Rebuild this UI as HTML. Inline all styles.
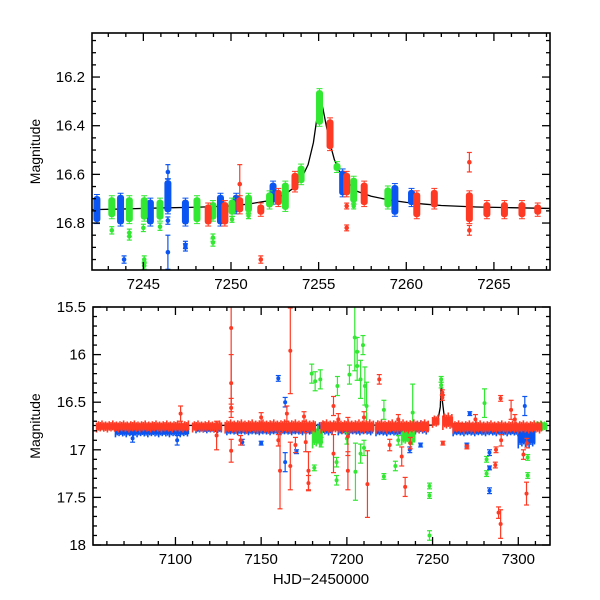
<!DOCTYPE html>
<html><head><meta charset="utf-8"><style>
html,body{margin:0;padding:0;background:#fff;}
svg{display:block;font-family:"Liberation Sans",sans-serif;}
</style></head><body>
<svg id="chart" width="600" height="600" viewBox="0 0 600 600"></svg>
<script>
// ---------- TOP PANEL DATA ----------
const topBlueClusters=[[7242.35,16.695,16.79],[7243.7,16.69,16.80],[7245.4,16.71,16.80],[7246.4,16.63,16.75],[7247.4,16.71,16.80],[7249.4,16.69,16.80],[7250.3,16.69,16.75],[7252.4,16.64,16.71],[7256.37,16.59,16.68],[7259.35,16.65,16.76],[7260.3,16.67,16.72]];
const topGreenClusters=[[7243.2,16.70,16.77],[7244.2,16.70,16.79],[7245.05,16.70,16.78],[7245.95,16.71,16.78],[7248.06,16.70,16.79],[7248.97,16.72,16.78],[7250.06,16.71,16.76],[7251.0,16.69,16.75],[7252.2,16.68,16.73],[7253.1,16.64,16.74],[7254.0,16.57,16.63],[7255.05,16.26,16.39],[7256.05,16.56,16.58],[7257.0,16.62,16.71],[7258.95,16.66,16.73]];
const topRedClusters=[[7248.7,16.73,16.80],[7249.65,16.72,16.80],[7250.5,16.70,16.75],[7251.7,16.73,16.76],[7252.7,16.67,16.72],[7253.65,16.60,16.66],[7255.65,16.38,16.49],[7256.6,16.60,16.68],[7257.6,16.64,16.72],[7260.6,16.68,16.77],[7261.6,16.67,16.73],[7263.6,16.68,16.79],[7264.6,16.72,16.77],[7265.6,16.72,16.77],[7266.6,16.72,16.77],[7267.5,16.73,16.76]];
const topBluePoints=[[7243.9,16.95,0.015],[7246.4,16.59,0.03],[7246.4,16.79,0.015],[7246.4,16.92,0.07],[7247.4,16.89,0.015],[7247.4,16.90,0.015]];
const topGreenPoints=[[7243.2,16.83,0.015],[7244.2,16.84,0.015],[7244.2,16.855,0.015],[7245.0,16.82,0.015],[7245.05,16.95,0.015],[7245.05,16.975,0.015],[7245.95,16.815,0.015],[7248.97,16.86,0.015],[7248.97,16.88,0.015],[7250.06,16.785,0.012],[7251.0,16.77,0.012],[7257.0,16.73,0.012]];
const topRedPoints=[[7250.5,16.64,0.08],[7251.7,16.95,0.015],[7256.6,16.73,0.012],[7256.6,16.82,0.012],[7263.6,16.55,0.04],[7263.6,16.83,0.02]];
const modelTime=[7242.0,7244,7246,7248,7250,7251,7252,7253,7253.5,7254,7254.4,7254.7,7254.9,7255.1,7255.3,7255.6,7255.9,7256.2,7256.6,7257.2,7258,7259,7260,7261,7262,7264,7266,7268.2];
const modelMag=[16.745,16.742,16.738,16.735,16.73,16.722,16.71,16.685,16.66,16.62,16.56,16.47,16.37,16.28,16.35,16.46,16.54,16.59,16.63,16.67,16.69,16.705,16.715,16.722,16.728,16.734,16.737,16.74];

// ---------- BOTTOM PANEL DATA ----------
const botBlueBands=[[7065,7108,16.74,16.86],[7112,7127,16.73,16.82],[7130,7182,16.74,16.84],[7183,7192,16.71,16.84],[7195,7215,16.73,16.84],[7217,7239,16.74,16.85],[7240,7248,16.70,16.83],[7262,7300,16.74,16.85],[7300,7310,16.76,16.97]];
const botGreenBands=[[7180,7186,16.76,16.97],[7232,7240,16.78,16.94],[7310,7317,16.70,16.80]];
const botRedBands=[[7054,7108,16.70,16.81],[7110,7127,16.70,16.81],[7129,7182,16.69,16.82],[7185,7216,16.69,16.82],[7217,7248,16.69,16.82],[7250,7254,16.64,16.76],[7256,7262,16.62,16.78],[7262,7314,16.70,16.82]];
const botBluePoints=[[7160,16.25,0.03],[7164,16.50,0.05],[7164,17.13,0.1],[7170.6,17.02,0.02],[7236.7,17.0,0.03],[7243,16.95,0.02],[7271.7,16.62,0.02],[7270,16.95,0.02],[7283.2,17.03,0.03],[7283.2,17.19,0.02],[7283.2,17.43,0.03],[7303.8,16.54,0.1],[7139,16.92,0.03],[7150,16.93,0.02],[7075,16.88,0.04],[7101,16.90,0.05]];
const botGreenPoints=[[7179.5,16.20,0.1],[7181.5,16.28,0.1],[7184.5,16.26,0.1],[7181,17.19,0.03],[7194.5,16.33,0.1],[7194,17.13,0.05],[7194,17.32,0.05],[7201.5,16.21,0.1],[7204.6,15.82,0.35],[7206,15.97,0.15],[7206,16.12,0.15],[7209.4,15.90,0.1],[7208,16.26,0.2],[7210.5,16.33,0.2],[7211.5,16.54,0.25],[7205,17.23,0.3],[7208,17.04,0.1],[7221.6,16.58,0.1],[7221.6,17.28,0.03],[7228.3,17.17,0.05],[7238.4,16.61,0.3],[7248.2,17.38,0.03],[7248.2,17.48,0.03],[7248.2,17.90,0.05],[7255,16.26,0.03],[7255,16.32,0.03],[7280.3,16.51,0.15],[7281.5,17.10,0.03],[7281.5,17.25,0.03],[7305.5,17.08,0.03],[7305.5,17.27,0.03],[7185,16.92,0.05],[7210,16.98,0.08],[7200,16.88,0.06],[7230,16.9,0.05]];
const botRedPoints=[[7132.5,15.72,0.8],[7132.5,16.30,0.3],[7132.5,16.56,0.1],[7132.5,17.01,0.12],[7167,15.96,0.45],[7161,17.22,0.4],[7167,17.17,0.25],[7177.6,17.22,0.2],[7177.6,17.35,0.08],[7192.2,16.54,0.1],[7192.2,17.04,0.2],[7200.6,17.22,0.2],[7200.6,16.86,0.2],[7212,17.36,0.35],[7218.9,16.26,0.05],[7234,17.39,0.1],[7232,17.07,0.1],[7255.7,16.40,0.03],[7255.7,16.45,0.03],[7256,16.93,0.02],[7270,16.97,0.02],[7286.6,17.16,0.03],[7287,17.0,0.03],[7289.7,16.46,0.03],[7288.5,17.66,0.06],[7289.7,17.78,0.15],[7295.8,16.58,0.1],[7304.8,17.46,0.12],[7303,17.05,0.05],[7305,16.93,0.05],[7103,16.62,0.08],[7124,16.85,0.15],[7138,16.90,0.05],[7150,16.66,0.05],[7165,16.62,0.08],[7175,16.65,0.05],[7176,16.92,0.1],[7170,16.95,0.08],[7160,16.9,0.06],[7195,16.68,0.06],[7210,16.66,0.06],[7225,16.95,0.06],[7230,16.68,0.05],[7237,16.93,0.06],[7275,16.68,0.05],[7290,16.9,0.06],[7298,16.68,0.05]];
const botModelTime=[7052,7250,7253,7254.5,7255.1,7255.8,7257,7262,7319];
const botModelMag=[16.745,16.74,16.70,16.55,16.28,16.5,16.68,16.725,16.745];

const COLORS={blue:'#0b55f2',green:'#33e833',red:'#ff3a24'};
const NS='http://www.w3.org/2000/svg';
const svg=document.getElementById('chart');
function mk(tag,attrs,parent){const e=document.createElementNS(NS,tag);for(const k in attrs)e.setAttribute(k,attrs[k]);(parent||svg).appendChild(e);return e;}

function panel(cfg){
  const {x0,x1,y0,y1,tMin,tMax,mMin,mMax}=cfg;
  const sx=t=>x0+(t-tMin)/(tMax-tMin)*(x1-x0);
  const sy=m=>y0+(m-mMin)/(mMax-mMin)*(y1-y0);
  const g=mk('g',{});
  
  
  const clip='clip-'+cfg.name;
  const cp=mk('clipPath',{id:clip},g);mk('rect',{x:x0,y:y0,width:x1-x0,height:y1-y0},cp);
  const plot=mk('g',{'clip-path':`url(#${clip})`},g);
  return {sx,sy,g,plot};
}
function drawPoint(p,plot,t,m,e,col,r,name){
  const x=p.sx(t),y=p.sy(m),ya=p.sy(m-e),yb=p.sy(m+e);
  const gg=mk('g',{stroke:col,fill:col,'stroke-width':1.2},plot);
  
  
  mk('line',{x1:x,x2:x,y1:ya,y2:yb},gg);
  mk('line',{x1:x-2.5,x2:x+2.5,y1:ya,y2:ya},gg);
  mk('line',{x1:x-2.5,x2:x+2.5,y1:yb,y2:yb},gg);
  mk('circle',{cx:x,cy:y,r:r,stroke:'none'},gg);
}
function drawCluster(p,plot,c,col,name){
  const x=p.sx(c[0]),ya=p.sy(c[1]),yb=p.sy(c[2]);
  const gg=mk('g',{fill:col,stroke:col},plot);
  
  
  mk('rect',{x:x-3.5,y:ya-1.5,width:7,height:yb-ya+3,rx:3,stroke:'none'},gg);
  mk('line',{x1:x-3,x2:x+3,y1:ya-3,y2:ya-3,'stroke-width':1},gg);
  mk('line',{x1:x-3,x2:x+3,y1:yb+3,y2:yb+3,'stroke-width':1},gg);
  mk('line',{x1:x,x2:x,y1:ya-3,y2:yb+3,'stroke-width':1},gg);
}
function drawBand(p,plot,b,col,name){
  const xa=p.sx(b[0]),xb=p.sx(b[1]),ya=p.sy(b[2]),yb=p.sy(b[3]);
  const gg=mk('g',{stroke:col,fill:col,'stroke-width':1.6},plot);
  
  
  const mid=(ya+yb)/2,h=(yb-ya)/2;
  mk('rect',{x:xa,y:mid-h*0.6,width:Math.max(xb-xa,1),height:h*1.2,stroke:'none'},gg);
  const ext=[0.75,1.0,0.85,1.15,0.8,0.95];
  let i=0;
  for(let x=xa;x<=xb;x+=1.8,i++){
    const f=ext[i%ext.length];
    mk('line',{x1:x,x2:x,y1:mid-h*f,y2:mid+h*ext[(i+3)%ext.length]},gg);
  }
}
function drawModel(p,plot,ts,ms,name){
  let d='';ts.forEach((t,i)=>{d+=(i?'L':'M')+p.sx(t).toFixed(2)+','+p.sy(ms[i]).toFixed(2);});
  const path=mk('path',{d:d,fill:'none',stroke:'#000','stroke-width':1.3,'stroke-linejoin':'round'},plot);
  
  
}
function axes(p,cfg){
  const {x0,x1,y0,y1}=cfg;
  const fr=mk('rect',{x:x0,y:y0,width:x1-x0,height:y1-y0,fill:'none',stroke:'#000','stroke-width':1.6},p.g);
  
  
  const tk=mk('g',{stroke:'#000','stroke-width':1.3},p.g);
  
  
  const eps=1e-6;
  for(let t=Math.ceil(cfg.tMin/cfg.xMinor)*cfg.xMinor;t<=cfg.tMax+eps;t+=cfg.xMinor){
    const isMaj=Math.abs(t/cfg.xMajor-Math.round(t/cfg.xMajor))<eps;const L=isMaj?8:4;const x=p.sx(t);
    mk('line',{x1:x,x2:x,y1:y1,y2:y1-L},tk);mk('line',{x1:x,x2:x,y1:y0,y2:y0+L},tk);
  }
  for(let m=Math.ceil(cfg.mMin/cfg.yMinor-eps)*cfg.yMinor;m<=cfg.mMax+eps;m+=cfg.yMinor){
    const isMaj=Math.abs(m/cfg.yMajor-Math.round(m/cfg.yMajor))<1e-4;const L=isMaj?8:4;const y=p.sy(m);
    mk('line',{x1:x0,x2:x0+L,y1:y,y2:y},tk);mk('line',{x1:x1,x2:x1-L,y1:y,y2:y},tk);
  }
  cfg.xLabels.forEach(v=>{const t=mk('text',{x:p.sx(v),y:y1+19,'text-anchor':'middle','font-size':15},p.g);t.textContent=v;
    });
  cfg.yLabels.forEach(v=>{const t=mk('text',{x:x0-7,y:p.sy(+v)+5,'text-anchor':'end','font-size':15},p.g);t.textContent=v;
    });
  const yl=mk('text',{x:0,y:0,'text-anchor':'middle','font-size':14,transform:`translate(40,${(y0+y1)/2}) rotate(-90)`},p.g);
  yl.textContent='Magnitude';
  
}

const topCfg={name:'top-panel',x0:92,x1:550,y0:33,y1:270,tMin:7242.07,tMax:7268.2,mMin:16.019,mMax:16.993,xMinor:1,xMajor:5,yMinor:0.05,yMajor:0.2,
  xLabels:[7245,7250,7255,7260,7265],yLabels:['16.2','16.4','16.6','16.8']};
const P1=panel(topCfg);
drawModel(P1,P1.plot,modelTime,modelMag,'top-model-curve');
topBlueClusters.forEach(c=>drawCluster(P1,P1.plot,c,COLORS.blue,'blue-cluster'));
topGreenClusters.forEach(c=>drawCluster(P1,P1.plot,c,COLORS.green,'green-cluster'));
topRedClusters.forEach(c=>drawCluster(P1,P1.plot,c,COLORS.red,'red-cluster'));
topBluePoints.forEach(d=>drawPoint(P1,P1.plot,d[0],d[1],d[2],COLORS.blue,2.3,'blue-point'));
topGreenPoints.forEach(d=>drawPoint(P1,P1.plot,d[0],d[1],d[2],COLORS.green,2.3,'green-point'));
topRedPoints.forEach(d=>drawPoint(P1,P1.plot,d[0],d[1],d[2],COLORS.red,2.3,'red-point'));
axes(P1,topCfg);

const botCfg={name:'bottom-panel',x0:93,x1:550,y0:307,y1:545,tMin:7051.9,tMax:7318.5,mMin:15.5,mMax:18,xMinor:10,xMajor:50,yMinor:0.1,yMajor:0.5,
  xLabels:[7100,7150,7200,7250,7300],yLabels:['15.5','16','16.5','17','17.5','18']};
const P2=panel(botCfg);
drawModel(P2,P2.plot,botModelTime,botModelMag,'bottom-model-curve');
botBlueBands.forEach(b=>drawBand(P2,P2.plot,b,COLORS.blue,'blue-band'));
botGreenBands.forEach(b=>drawBand(P2,P2.plot,b,COLORS.green,'green-band'));
botBluePoints.forEach(d=>drawPoint(P2,P2.plot,d[0],d[1],d[2],COLORS.blue,2,'blue-point'));
botGreenPoints.forEach(d=>drawPoint(P2,P2.plot,d[0],d[1],d[2],COLORS.green,2,'green-point'));
botRedBands.forEach(b=>drawBand(P2,P2.plot,b,COLORS.red,'red-band'));
botRedPoints.forEach(d=>drawPoint(P2,P2.plot,d[0],d[1],d[2],COLORS.red,2,'red-point'));
axes(P2,botCfg);

const xt=mk('text',{x:321,y:584,'text-anchor':'middle','font-size':15});
xt.textContent='HJD\u22122450000';


</script>
</body></html>
